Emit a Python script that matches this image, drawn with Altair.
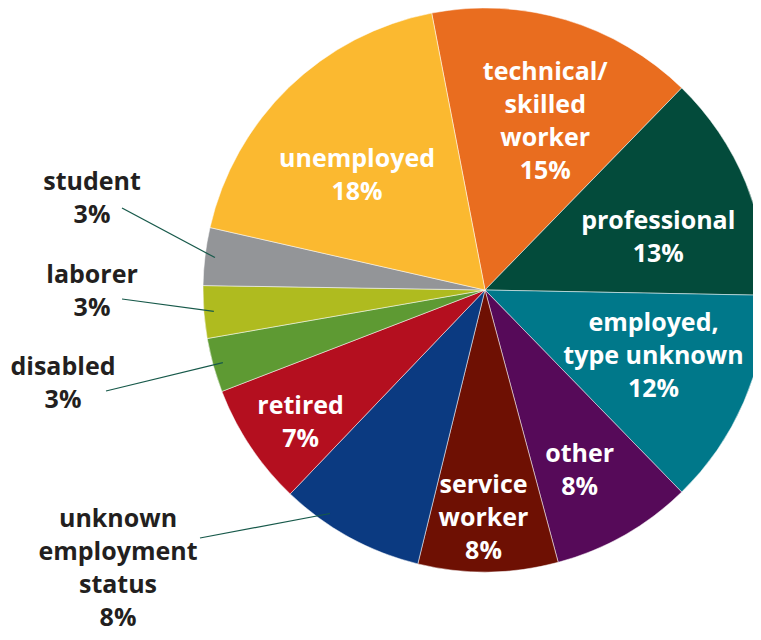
import math
import altair as alt
import pandas as pd

# ---------------- data ----------------
categories = [
    "technical/skilled worker", "professional", "employed, type unknown",
    "other", "service worker", "unknown employment status", "retired",
    "disabled", "laborer", "student", "unemployed",
]
values = [15.3, 13.0, 12.4, 8.1, 8.0, 8.3, 7.0, 3.1, 3.0, 3.3, 18.4]
label_lines = [
    ["technical/", "skilled", "worker"], ["professional"],
    ["employed,", "type unknown"], ["other"], ["service", "worker"],
    ["unknown", "employment", "status"], ["retired"], ["disabled"],
    ["laborer"], ["student"], ["unemployed"],
]
colors = [
    "#E96D1F", "#034B3B", "#00788A", "#560A59", "#6E1003", "#0B3A81",
    "#B40F1F", "#5E9A33", "#AFBB1F", "#939598", "#FBB930",
]

# ---------------- layout / style ----------------
W, H = 745, 624
CX, CY = 477, 282          # pie centre in chart pixels
R = 282                    # pie radius
START_DEG = -10.9          # first slice starts slightly left of 12 o'clock
FONT = "Open Sans"
FS = 25
LH = 33
DARK = "#231F20"
LEADER = "#17594A"
LEADER_R = 272

# inside labels: (radius, angle nudge in degrees from the slice mid angle)
inside_pos = {
    "technical/skilled worker": (179, 3),
    "professional": (181, 5.5),
    "employed, type unknown": (181, -2),
    "other": (204, 2),
    "service worker": (228, 1),
    "retired": (227, -2),
    "unemployed": (172, -4),
}
# callouts: text block centre and outer leader end (chart pixels);
# inner leader end sits on the slice at its mid angle (+ nudge)
callouts = {
    "student":  dict(tx=84,  ty=190, lx=114, ly=200, nudge=0),
    "laborer":  dict(tx=84,  ty=283, lx=114, ly=291, nudge=0),
    "disabled": dict(tx=55,  ty=375, lx=98,  ly=383, nudge=0),
    "unknown employment status": dict(tx=110, ty=560, lx=192, ly=530, nudge=6),
}

# ---------------- build tables ----------------
df = pd.DataFrame({
    "category": categories,
    "value": values,
    "idx": list(range(len(values))),
})

total = sum(values)
mids = {}
cum = 0.0
for c, v in zip(categories, values):
    mids[c] = START_DEG + (cum + v / 2) / total * 360
    cum += v


def polar(angle_deg, r):
    a = math.radians(angle_deg)
    return CX + r * math.sin(a), CY - r * math.cos(a)


rows_in, rows_out, rows_line = [], [], []
for c, v, lines in zip(categories, values, label_lines):
    txt = "\n".join(lines + [f"{round(v)}%"])
    n = len(lines) + 1
    if c in inside_pos:
        r, nudge = inside_pos[c]
        x, y = polar(mids[c] + nudge, r)
        rows_in.append(dict(x=x, y=y - (n - 1) * LH / 2, text=txt))
    else:
        co = callouts[c]
        rows_out.append(dict(x=co["tx"], y=co["ty"] - (n - 1) * LH / 2, text=txt))
        x0, y0 = polar(mids[c] + co["nudge"], LEADER_R)
        rows_line.append(dict(x=x0, y=y0, x2=co["lx"], y2=co["ly"]))

in_df = pd.DataFrame(rows_in)
out_df = pd.DataFrame(rows_out)
lines_df = pd.DataFrame(rows_line)

a0 = math.radians(START_DEG)
theta_scale = alt.Scale(range=[a0, a0 + 2 * math.pi])
color_scale = alt.Scale(domain=categories, range=colors)

pie = alt.Chart(df).mark_arc(outerRadius=R, stroke="white", strokeWidth=0.5).encode(
    theta=alt.Theta("value:Q", stack=True, scale=theta_scale),
    color=alt.Color("category:N", scale=color_scale, legend=None),
    order=alt.Order("idx:Q"),
    x=alt.value(CX),
    y=alt.value(CY),
)

leaders = alt.Chart(lines_df).mark_rule(color=LEADER, strokeWidth=1.2).encode(
    x=alt.X("x:Q", scale=None, axis=None),
    y=alt.Y("y:Q", scale=None, axis=None),
    x2="x2:Q",
    y2="y2:Q",
)


def text_layer(data, color):
    return alt.Chart(data).mark_text(
        font=FONT, fontSize=FS, fontWeight="bold", color=color,
        lineBreak="\n", lineHeight=LH, align="center", baseline="middle",
    ).encode(
        x=alt.X("x:Q", scale=None, axis=None),
        y=alt.Y("y:Q", scale=None, axis=None),
        text="text:N",
    )


chart = alt.layer(
    pie, leaders, text_layer(in_df, "white"), text_layer(out_df, DARK)
).properties(
    width=W, height=H, padding=0,
    autosize=alt.AutoSizeParams(type="none"),
).configure_view(stroke=None)

chart.save("out.html", embed_options={"renderer": "svg", "actions": False})
